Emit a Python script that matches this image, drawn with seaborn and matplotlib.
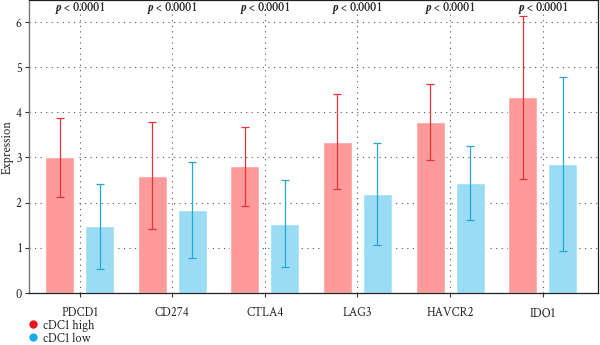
import matplotlib
matplotlib.use("Agg")
import matplotlib.pyplot as plt
from matplotlib.lines import Line2D
import seaborn as sns
import pandas as pd

genes = ["PDCD1", "CD274", "CTLA4", "LAG3", "HAVCR2", "IDO1"]
groups = ["cDC1 high", "cDC1 low"]
high_mean = [3.00, 2.60, 2.80, 3.35, 3.78, 4.33]
high_sd = [0.88, 1.18, 0.88, 1.05, 0.84, 1.80]
low_mean = [1.48, 1.83, 1.53, 2.20, 2.43, 2.85]
low_sd = [0.94, 1.06, 0.96, 1.13, 0.82, 1.93]
p_labels = ["< 0.0001"] * 6

bar_colors = ["#FF9A9A", "#9BDCF5"]
err_colors = ["#E8323A", "#25A8D6"]
dot_colors = ["#E8151B", "#1BAEE4"]

FONT = "Crimson Text"
sns.set_theme(style="white")
plt.rcParams["font.family"] = [FONT, "Liberation Serif", "DejaVu Serif"]
plt.rcParams["mathtext.fontset"] = "custom"
plt.rcParams["mathtext.it"] = FONT + ":bold:italic"
plt.rcParams["mathtext.rm"] = FONT
plt.rcParams["mathtext.bf"] = FONT + ":bold"

df = pd.DataFrame({
    "gene": genes * 2,
    "group": [groups[0]] * len(genes) + [groups[1]] * len(genes),
    "value": high_mean + low_mean,
})

fig = plt.figure(figsize=(6.0, 3.45), dpi=100)
ax = fig.add_axes([0.048, 0.151, 0.949, 0.848])

sns.barplot(data=df, x="gene", y="value", hue="group", order=genes,
            hue_order=groups, palette=bar_colors, width=0.864, gap=0.275,
            errorbar=None, legend=False, ax=ax, zorder=2, saturation=1)

for gi, (means, sds) in enumerate([(high_mean, high_sd), (low_mean, low_sd)]):
    cont = ax.containers[gi]
    xs = [p.get_x() + p.get_width() / 2 for p in cont.patches]
    ax.errorbar(xs, means, yerr=sds, fmt="none", ecolor=err_colors[gi],
                elinewidth=0.9, capsize=2.6, capthick=0.9, zorder=3)

ax.set_ylim(0, 6.48)
ax.set_xlim(-0.55, 5.6)
ax.set_yticks(range(0, 7))
ax.set_xlabel("")
ax.set_ylabel("Expression", fontsize=9)
ax.yaxis.set_label_coords(-0.027, 0.5)
ax.tick_params(axis="both", labelsize=9, length=3, width=0.8, color="#333333",
               pad=2, direction="out")
ax.tick_params(axis="x", pad=7)
ax.tick_params(left=True, bottom=True)

ax.grid(True, axis="both", linestyle=(0, (1, 4)), linewidth=0.8,
        color="#555555", zorder=0)
ax.set_axisbelow(True)

for s in ["top", "right", "bottom"]:
    ax.spines[s].set_color("#222222")
    ax.spines[s].set_linewidth(0.9)
ax.spines["left"].set_color("#777777")
ax.spines["left"].set_linewidth(1.0)

for i, lab in enumerate(p_labels):
    ax.text(i, 6.31, r"$p$ " + lab, ha="center", va="center", fontsize=9,
            fontweight="semibold")

handles = [Line2D([0], [0], marker="o", linestyle="none", markersize=5,
                  markerfacecolor=c, markeredgecolor=c) for c in dot_colors]
fig.legend(handles, groups, loc="lower left", bbox_to_anchor=(0.03, -0.024),
           frameon=False, fontsize=9, handletextpad=0.3, labelspacing=0.05,
           handlelength=1.0, borderpad=0.2)

fig.savefig("out.png", dpi=100)
